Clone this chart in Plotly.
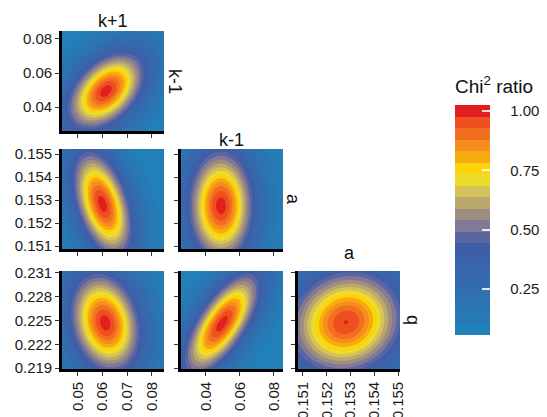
import numpy as np
import plotly.graph_objects as go

W, H = 547, 417

# ---- axis ranges, ticks ----
range_kp1_x = [0.0436, 0.0849]
range_km1_y = [0.0259, 0.0847]
range_km1_x = [0.0253, 0.0853]
range_a_y = [0.15087, 0.15522]
range_a_x = [0.1508, 0.15507]
range_q_y = [0.2189, 0.2312]

ticks_kp1 = [0.05, 0.06, 0.07, 0.08]
labels_kp1 = ["0.05", "0.06", "0.07", "0.08"]
ticks_km1 = [0.04, 0.06, 0.08]
labels_km1 = ["0.04", "0.06", "0.08"]
ticks_a = [0.151, 0.152, 0.153, 0.154, 0.155]
labels_a = ["0.151", "0.152", "0.153", "0.154", "0.155"]
ticks_q = [0.219, 0.222, 0.225, 0.228, 0.231]
labels_q = ["0.219", "0.222", "0.225", "0.228", "0.231"]

# ---- panel surfaces (peak location/height, widths, correlation) ----
panel_row = [1, 2, 3, 2, 3, 3]
panel_col = [1, 1, 1, 2, 2, 3]
panel_xpar = ["k+1", "k+1", "k+1", "k-1", "k-1", "a"]
panel_ypar = ["k-1", "a", "q", "a", "q", "q"]
peak_x = [0.0614, 0.0600, 0.0611, 0.0488, 0.0494, 0.15281]
peak_y = [0.0494, 0.15283, 0.2247, 0.15275, 0.22458, 0.22477]
peak_z = [1.0, 1.0, 1.0, 1.0, 1.0, 0.978]
width_x = [0.01082, 0.00825, 0.00981, 0.01308, 0.01534, 0.00165]
width_y = [0.01573, 0.001596, 0.004313, 0.001666, 0.004415, 0.00452]
corr = [0.45, -0.45, -0.2, 0.0, 0.7, 0.1]
tail_index = 4.0

# ---- colour scale: 20 bins from 0.056 to 1.025 ----
scale_min, scale_max = 0.056, 1.025
band_colors = [
    "#2280B9", "#267BB6", "#2A76B3", "#2F71B0", "#336CAE",
    "#3767AC", "#3B63AA", "#3E5FA8", "#5A66A2", "#837895",
    "#9D8E80", "#BAA86E", "#D5C25A", "#EEDC2B", "#FCD40B",
    "#F8AB10", "#F68D1F", "#F26E21", "#EE4F1F", "#E31E1F",
]
cbar_ticks = [0.25, 0.5, 0.75, 1.0]
cbar_labels = ["0.25", "0.50", "0.75", "1.00"]

nb = len(band_colors)
step = (scale_max - scale_min) / nb

contour_scale = [[k / (nb - 1), band_colors[k]] for k in range(nb)]
bar_scale = []
for k in range(nb):
    bar_scale.append([k / nb, band_colors[k]])
    bar_scale.append([(k + 1) / nb, band_colors[k]])

# ---- layout geometry (pixels) ----
col_px = [(62, 164), (181, 283), (298, 400)]
row_px = [(31, 131), (149, 249), (271, 369)]

xinfo = {
    1: (range_kp1_x, ticks_kp1, labels_kp1),
    2: (range_km1_x, ticks_km1, labels_km1),
    3: (range_a_x, ticks_a, labels_a),
}
yinfo = {
    1: (range_km1_y, ticks_km1, labels_km1),
    2: (range_a_y, ticks_a, labels_a),
    3: (range_q_y, ticks_q, labels_q),
}

fig = go.Figure()
layout = dict(
    width=W, height=H, margin=dict(l=0, r=0, t=0, b=0, autoexpand=False),
    paper_bgcolor="white", plot_bgcolor="white", showlegend=False,
    font=dict(family="Liberation Sans, Arial, sans-serif", color="#1a1a1a"),
)

for i in range(6):
    r, c = panel_row[i], panel_col[i]
    n = i + 1
    xr, xt, xl = xinfo[c]
    yr, yt, yl = yinfo[r]
    xs = np.linspace(xr[0], xr[1], 161)
    ys = np.linspace(yr[0], yr[1], 161)
    X, Y = np.meshgrid(xs, ys)
    u = (X - peak_x[i]) / width_x[i]
    v = (Y - peak_y[i]) / width_y[i]
    p = corr[i]
    Q = (u * u - 2 * p * u * v + v * v) / (1 - p * p)
    Z = peak_z[i] * (1.0 + Q / tail_index) ** (-tail_index / 2)
    sfx = "" if n == 1 else str(n)
    fig.add_trace(go.Contour(
        x=xs, y=ys, z=Z, xaxis="x" + sfx, yaxis="y" + sfx,
        colorscale=contour_scale, autocontour=False,
        contours=dict(start=scale_min + step, end=scale_min + (nb - 1) * step + 1e-9,
                      size=step, coloring="fill", showlines=False),
        line=dict(width=0), hoverinfo="skip", showscale=False,
    ))
    x0, x1 = col_px[c - 1]
    y0, y1 = row_px[r - 1]
    axcommon = dict(showgrid=False, zeroline=False, showline=True, linecolor="black",
                    linewidth=2.6, ticks="outside", ticklen=4, tickwidth=1.2,
                    tickcolor="#333", tickfont=dict(size=15, color="#1a1a1a"))
    xd = dict(axcommon, domain=[x0 / W, x1 / W], range=xr, anchor="y" + sfx,
              tickmode="array", tickvals=xt, showticklabels=(r == 3), tickangle=-90)
    if r == 3:
        xd["ticktext"] = xl
    yd = dict(axcommon, domain=[1 - y1 / H, 1 - y0 / H], range=yr, anchor="x" + sfx,
              tickmode="array", tickvals=yt, showticklabels=(c == 1))
    if c == 1:
        yd["ticktext"] = yl
    layout["xaxis" + sfx] = xd
    layout["yaxis" + sfx] = yd

pad = "\u00a0\u00a0\u00a0\u00a0"
fig.add_trace(go.Scatter(
    x=[peak_x[0]], y=[peak_y[0]], xaxis="x", yaxis="y", mode="markers",
    hoverinfo="skip",
    marker=dict(size=1, opacity=0, color=[peak_z[0]], cmin=scale_min, cmax=scale_max,
                colorscale=bar_scale, showscale=True,
                colorbar=dict(
                    x=455 / W, xanchor="left", xpad=0,
                    y=1 - 76 / H, yanchor="top", ypad=0,
                    thickness=35, thicknessmode="pixels",
                    len=259, lenmode="pixels", outlinewidth=0,
                    tickmode="array", tickvals=cbar_ticks,
                    ticktext=[pad + t for t in cbar_labels],
                    ticks="inside", ticklen=8, tickwidth=1.5,
                    tickcolor="rgba(255,255,255,0.85)",
                    tickfont=dict(size=15, color="#1a1a1a"),
                    title=dict(text="Chi<sup>2</sup> ratio", side="top",
                               font=dict(size=19, color="#111")),
                )),
))

annotations = []
for txt, cx, cy in [("k+1", 113, 21), ("k-1", 232, 140), ("a", 349, 253)]:
    annotations.append(dict(text=txt, x=cx / W, y=1 - cy / H, xref="paper", yref="paper",
                            showarrow=False, xanchor="center", yanchor="middle",
                            font=dict(size=18, color="#111")))
for txt, cx, cy in [("k-1", 175, 81), ("a", 293, 199), ("q", 413, 320)]:
    annotations.append(dict(text=txt, x=cx / W, y=1 - cy / H, xref="paper", yref="paper",
                            showarrow=False, xanchor="center", yanchor="middle", textangle=90,
                            font=dict(size=18, color="#111")))
layout["annotations"] = annotations

fig.update_layout(**layout)
fig.write_html("out.html", config={"displayModeBar": False},
               post_script="document.body.style.margin='0';document.body.style.overflow='hidden';")
